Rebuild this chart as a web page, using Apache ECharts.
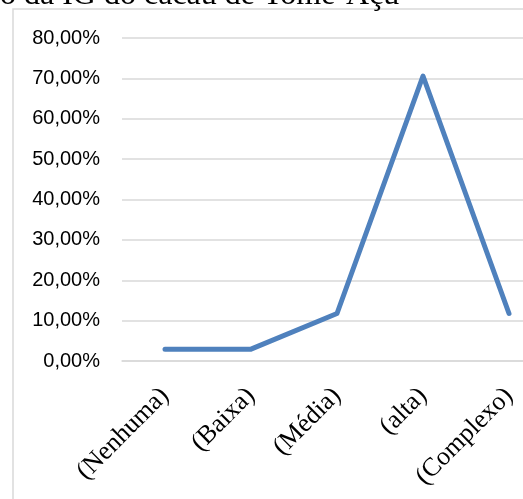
<!DOCTYPE html>
<html>
<head>
<meta charset="utf-8">
<script src="https://cdn.jsdelivr.net/npm/echarts@6/dist/echarts.min.js"></script>
<style>
html, body { margin: 0; padding: 0; background: #fff; }
#main { width: 523px; height: 499px; }
</style>
</head>
<body>
<div id="main"></div>
<script>
// Grau de complexidade (percentual)
var categories = ['(Nenhuma)', '(Baixa)', '(Média)', '(alta)', '(Complexo)'];
var values = [2.94, 2.94, 11.76, 70.59, 11.76];
var titleText = 'o da IG do cacau de Tomé-Açu';

var chart = echarts.init(document.getElementById('main'));

var option = {
	animation: false,
	backgroundColor: '#fff',
	graphic: [
		{
			type: 'rect',
			shape: { x: 13, y: 9, width: 700, height: 700 },
			style: { fill: 'none', stroke: '#d9d9d9', lineWidth: 1.5 },
			silent: true
		},
		{
			type: 'text',
			x: 0,
			y: 12,
			style: {
				text: titleText,
				font: '32px "Liberation Serif"',
				fill: '#000',
				verticalAlign: 'bottom'
			}
		}
	],
	grid: {
		left: 122,
		top: 38,
		width: 430,
		height: 323,
		outerBoundsMode: 'none',
		containLabel: false
	},
	xAxis: {
		type: 'category',
		data: categories,
		boundaryGap: true,
		axisTick: { show: false },
		axisLine: { lineStyle: { color: '#d9d9d9', width: 1.5 } },
		axisLabel: {
			rotate: 45,
			interval: 0,
			margin: 31,
			color: '#000',
			fontFamily: 'Liberation Serif',
			fontSize: 26
		}
	},
	yAxis: {
		type: 'value',
		min: 0,
		max: 80,
		interval: 10,
		axisLine: { show: false },
		axisTick: { show: false },
		splitLine: { lineStyle: { color: '#d9d9d9', width: 1.5 } },
		axisLabel: {
			margin: 22,
			color: '#000',
			fontFamily: 'Liberation Sans',
			fontSize: 20,
			formatter: function (v) {
				return v.toFixed(2).replace('.', ',') + '%';
			}
		}
	},
	series: [
		{
			type: 'line',
			data: values,
			showSymbol: false,
			symbol: 'none',
			lineStyle: { color: '#4f81bd', width: 5, cap: 'round', join: 'round' }
		}
	]
};

chart.setOption(option);
</script>
</body>
</html>
